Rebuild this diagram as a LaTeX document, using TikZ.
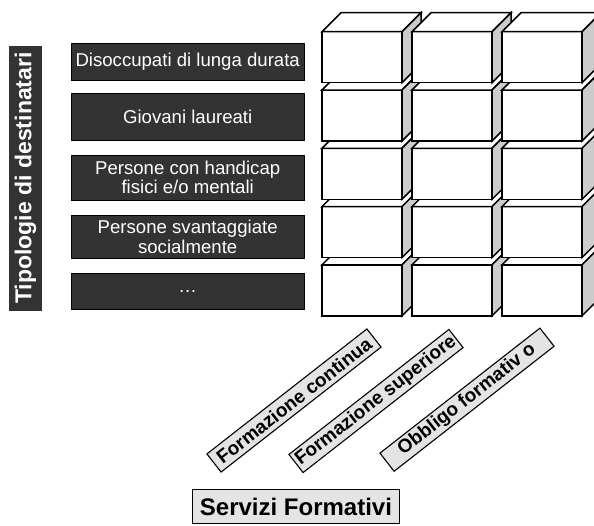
\documentclass[tikz,border=0pt]{standalone}
\usepackage{fontspec}
\setmainfont{Liberation Sans}
\definecolor{boxdark}{HTML}{333333}
\definecolor{sidegray}{HTML}{CCCCCC}
\definecolor{labgray}{HTML}{E4E4E4}
\begin{document}
\begin{tikzpicture}[x=1pt,y=-1pt,
  cubeline/.style={draw=black,line width=1.5pt,line join=miter},
  darkbox/.style={draw=black,fill=boxdark,text=white,line width=0.8pt,inner sep=0pt,
    font=\fontsize{18.6}{19.5}\selectfont,align=center,minimum width=233.3pt},
  titlebox/.style={draw=black!80,fill=boxdark,text=white,line width=0.8pt,inner sep=0pt,
    font=\fontsize{23}{25}\selectfont\bfseries,minimum width=264pt,minimum height=32.4pt},
  labbox/.style={draw=black,fill=labgray,line width=1.1pt,inner sep=0pt,
    font=\fontsize{19}{20}\selectfont\bfseries,minimum width=203pt,minimum height=23pt,rotate=38},
  servbox/.style={draw=black,fill=labgray,line width=1.1pt,inner sep=0pt,
    font=\fontsize{24}{26}\selectfont\bfseries,minimum width=206.6pt,minimum height=34pt}]
\useasboundingbox (0,0) rectangle (594,525);
\begin{scope}
\clip (0,0) rectangle (594,525);
% title
\node[titlebox,rotate=90] (title) at (25.5,178) {Tipologie di destinatari};
% row boxes
\node[darkbox,minimum height=36.7pt] (r1) at (187.7,61.7) {Disoccupati di lunga durata};
\node[darkbox,minimum height=46.7pt] (r2) at (187.7,116.7) {Giovani laureati};
\node[darkbox,minimum height=45pt] (r3) at (187.7,177.5) {Persone con handicap\\fisici e/o mentali};
\node[darkbox,minimum height=43.3pt] (r4) at (187.7,236.7) {Persone svantaggiate\\socialmente};
\node[darkbox,minimum height=36pt] (r5) at (187.7,291.3) {\dots};
% cubes
\foreach \c in {0,1,2}{
  \foreach \r in {4,3,2,1,0}{
    \pgfmathsetmacro{\xa}{322+90*\c}
    \pgfmathsetmacro{\xb}{\xa+80}
    \pgfmathsetmacro{\ya}{31.7+58.3*\r}
    \pgfmathsetmacro{\yb}{\ya+51}
    \filldraw[cubeline,fill=white] (\xa,\ya) rectangle (\xb,\yb);
    \filldraw[cubeline,fill=white] (\xa,\ya) -- (\xa+19,\ya-19) -- (\xb+19,\ya-19) -- (\xb,\ya) -- cycle;
    \filldraw[cubeline,fill=sidegray] (\xb,\ya) -- (\xb+19,\ya-19) -- (\xb+19,\yb-19) -- (\xb,\yb) -- cycle;
  }
}
% rotated labels
\node[labbox] (fc) at (294,400.5) {Formazione continua};
\node[labbox] (fs) at (376,401) {Formazione superiore};
\node[labbox] (of) at (467,399.7) {Obbligo formativ o};
% bottom title
\node[servbox] (sf) at (296,506.5) {Servizi Formativi};
\end{scope}
\end{tikzpicture}
\end{document}
